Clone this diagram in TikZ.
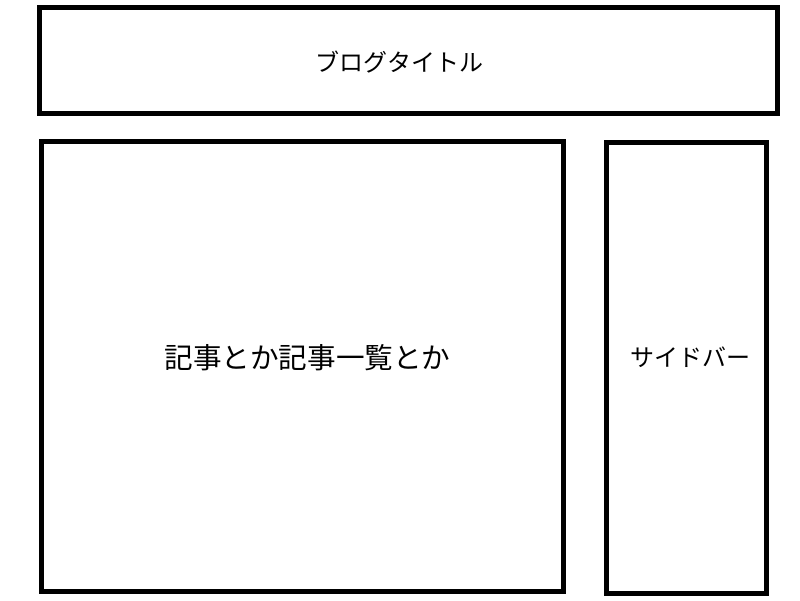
\documentclass[tikz,border=0pt]{standalone}
\usepackage{fontspec}
\newfontfamily\jpfont{Noto Sans CJK JP}
\usetikzlibrary{positioning}

\begin{document}
\begin{tikzpicture}[x=1pt,y=1pt,
  framebox/.style = {draw=black, line width=5pt},
  boxlabel/.style = {font=\jpfont\fontsize{24}{28}\selectfont, inner sep=0pt},
  biglabel/.style = {boxlabel, font=\jpfont\fontsize{28.6}{32}\selectfont}]
  \useasboundingbox (0,0) rectangle (800,600);

  % frames
  \draw[framebox] (39.5,592) rectangle (777.5,486.5);
  \draw[framebox] (41.5,458.5) rectangle (563.5,8.5);
  \draw[framebox] (606,457.5) rectangle (766,7);

  % labels
  \node[boxlabel] (title)   at (399.5,537.5) {ブログタイトル};
  \node[biglabel] (main)    at (307.5,242)   {記事とか記事一覧とか};
  \node[boxlabel] (sidebar) at (690.5,243)   {サイドバー};
\end{tikzpicture}
\end{document}
